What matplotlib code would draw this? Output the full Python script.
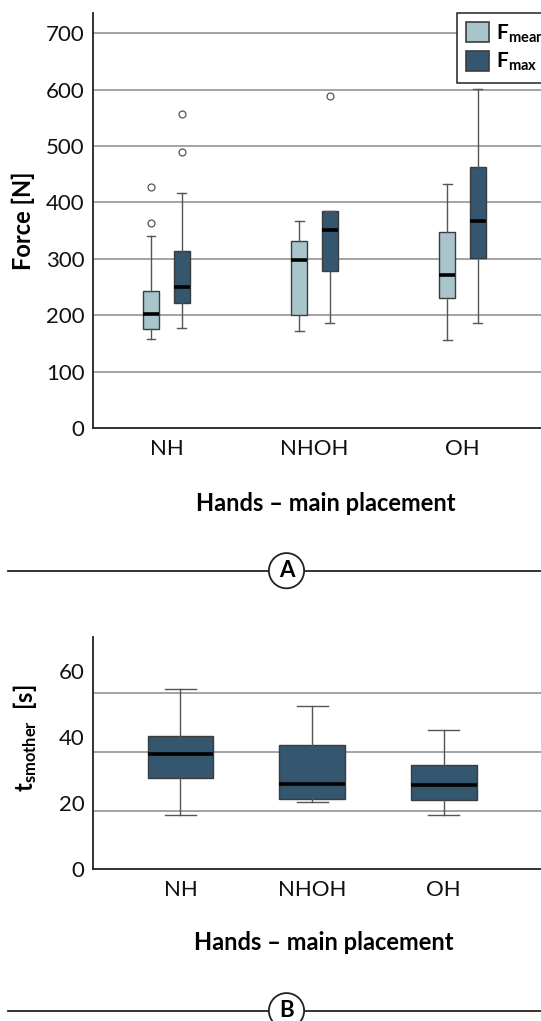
import matplotlib
matplotlib.use("Agg")
import matplotlib.pyplot as plt
from matplotlib.patches import Patch
from matplotlib.lines import Line2D

plt.rcParams["font.family"] = ["Lato", "DejaVu Sans"]
plt.rcParams["mathtext.fontset"] = "custom"
plt.rcParams["mathtext.rm"] = "Lato"
plt.rcParams["mathtext.bf"] = "Lato:bold"

# ---- data ----
categories = ["NH", "NHOH", "OH"]

# panel A: force [N]
fmean_whislo = [159, 172, 157]
fmean_q1 = [176, 200, 230]
fmean_med = [202, 298, 271]
fmean_q3 = [244, 331, 348]
fmean_whishi = [340, 367, 432]
fmean_fliers = [[364, 427], [], []]

fmax_whislo = [177, 187, 187]
fmax_q1 = [222, 278, 301]
fmax_med = [251, 352, 367]
fmax_q3 = [314, 385, 463]
fmax_whishi = [416, 385, 601]
fmax_fliers = [[490, 556], [589], []]

# panel B: t_smother [s]
ts_whislo = [16.3, 20.4, 16.4]
ts_q1 = [27.4, 21.2, 21.0]
ts_med = [34.7, 25.7, 25.5]
ts_q3 = [40.2, 37.5, 31.5]
ts_whishi = [54.5, 49.4, 42.0]
ts_grid = [17.6, 35.5, 53.4]

LIGHT = "#a8c5cb"
DARK = "#34566e"
EDGE = "#3c3c3c"
GRID = "#8a8a8a"


def make_stats(lo, q1, med, q3, hi, fliers=None):
    stats = []
    for i in range(len(lo)):
        stats.append({
            "whislo": lo[i], "q1": q1[i], "med": med[i], "q3": q3[i],
            "whishi": hi[i], "fliers": fliers[i] if fliers else [],
        })
    return stats


def draw_boxes(ax, stats, positions, width, capw, color):
    ax.bxp(
        stats, positions=positions, widths=width, capwidths=capw,
        patch_artist=True, showfliers=True,
        boxprops=dict(facecolor=color, edgecolor=EDGE, linewidth=1.0),
        medianprops=dict(color="black", linewidth=2.6),
        whiskerprops=dict(color="#555555", linewidth=1.0),
        capprops=dict(color="#555555", linewidth=1.0),
        flierprops=dict(marker="o", markersize=5, markerfacecolor="white",
                        markeredgecolor="#555555", markeredgewidth=0.9),
        zorder=3,
    )


def style_axes(ax):
    ax.spines["top"].set_visible(False)
    ax.spines["right"].set_visible(False)
    for s in ("left", "bottom"):
        ax.spines[s].set_linewidth(1.3)
        ax.spines[s].set_color("#222222")
    ax.tick_params(axis="both", length=0, labelsize=16, colors="#111111")
    ax.tick_params(axis="y", pad=6)
    ax.tick_params(axis="x", pad=8)


fig = plt.figure(figsize=(5.41, 10.21), dpi=100)

# ---- panel A ----
axA = fig.add_axes([0.1713, 0.5805, 1 - 0.1713, 0.4065])
x = list(range(1, len(categories) + 1))
off = 0.104
draw_boxes(axA, make_stats(fmean_whislo, fmean_q1, fmean_med, fmean_q3, fmean_whishi, fmean_fliers),
           [p - off for p in x], 0.11, 0.06, LIGHT)
draw_boxes(axA, make_stats(fmax_whislo, fmax_q1, fmax_med, fmax_q3, fmax_whishi, fmax_fliers),
           [p + off for p in x], 0.11, 0.06, DARK)
axA.set_xlim(0.502, 3.53)
axA.set_ylim(0, 735)
axA.set_yticks(range(0, 701, 100))
axA.set_xticks(x)
axA.set_xticklabels(categories)
for v in range(100, 701, 100):
    axA.axhline(v, color=GRID, linewidth=1.1, zorder=1)
style_axes(axA)
axA.set_ylabel("Force [N]", fontsize=17, fontweight="bold")
axA.yaxis.set_label_coords(-0.155, 0.5)
axA.yaxis.label.set_verticalalignment("center")
axA.set_xlabel("Hands \u2013 main placement", fontsize=17, fontweight="bold")
axA.xaxis.set_label_coords(0.519, -0.182)
axA.xaxis.label.set_verticalalignment("center")

handles = [Patch(facecolor=LIGHT, edgecolor=EDGE, linewidth=1.2),
           Patch(facecolor=DARK, edgecolor=EDGE, linewidth=1.2)]
leg = fig.legend(handles, [r"$\mathbf{F_{mean}}$", r"$\mathbf{F_{max}}$"],
                 loc="upper left", bbox_to_anchor=(457 / 541, 1 - 13 / 1021),
                 fontsize=15, frameon=True, fancybox=False, framealpha=1,
                 edgecolor="#222222", handlelength=1.1, handleheight=1.1,
                 handletextpad=0.3, borderpad=0.45, labelspacing=0.3,
                 borderaxespad=0)
leg.get_frame().set_linewidth(1.1)

# ---- panel B ----
axB = fig.add_axes([0.1713, 0.1489, 1 - 0.1713, 0.2275])
draw_boxes(axB, make_stats(ts_whislo, ts_q1, ts_med, ts_q3, ts_whishi),
           x, 0.5, 0.236, DARK)
axB.set_xlim(0.333, 3.74)
axB.set_ylim(0, 70.3)
axB.set_yticks([0, 20, 40, 60])
axB.set_xticks(x)
axB.set_xticklabels(categories)
for v in ts_grid:
    axB.axhline(v, color=GRID, linewidth=1.1, zorder=1)
style_axes(axB)
axB.set_ylabel(r"$\mathbf{t_{smother}}$  [s]", fontsize=17, fontweight="bold")
axB.yaxis.set_label_coords(-0.151, 0.564)
axB.yaxis.label.set_verticalalignment("center")
axB.set_xlabel("Hands \u2013 main placement", fontsize=17, fontweight="bold")
axB.xaxis.set_label_coords(0.515, -0.3186)
axB.xaxis.label.set_verticalalignment("center")

# ---- panel separators ----
for ysep, letter in ((1 - 570.7 / 1021, "A"), (1 - 1010.7 / 1021, "B")):
    fig.add_artist(Line2D([8 / 541, 1.0], [ysep, ysep], color="#222222", linewidth=1.3,
                          transform=fig.transFigure))
    fig.text(286.5 / 541, ysep, letter, ha="center", va="center", fontsize=16,
             fontweight="bold",
             bbox=dict(boxstyle="circle,pad=0.32", facecolor="white",
                       edgecolor="#222222", linewidth=1.3))

fig.savefig("out.png", dpi=100)
